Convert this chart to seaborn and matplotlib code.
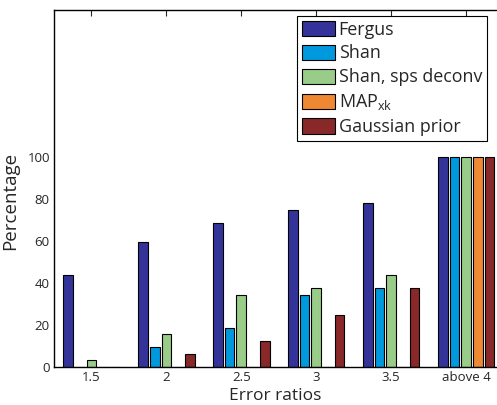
import numpy as np
import pandas as pd
import matplotlib
matplotlib.use("Agg")
import matplotlib.pyplot as plt
import seaborn as sns
from matplotlib.patches import Patch

# data
ratios = ['1.5', '2', '2.5', '3', '3.5', 'above 4']
methods = ['Fergus', 'Shan', 'Shan, sps deconv', 'MAPxk', 'Gaussian prior']
fergus = [43.75, 59.375, 68.75, 75.0, 78.125, 100]
shan = [0, 9.375, 18.75, 34.375, 37.5, 100]
shan_sps = [3.125, 15.625, 34.375, 37.5, 43.75, 100]
map_xk = [0, 0, 0, 0, 0, 100]
gauss = [0, 6.25, 12.5, 25.0, 37.5, 100]
legend_labels = ['Fergus', 'Shan', 'Shan, sps deconv',
                 'MAP$_{\\mathregular{xk}}$', 'Gaussian prior']
colors = ['#333399', '#0099dd', '#99cc88', '#ee8833', '#882828']

sns.set_style("white")
plt.rcParams['font.family'] = ['Open Sans', 'DejaVu Sans']
plt.rcParams['mathtext.default'] = 'regular'

df = pd.DataFrame({
    'ratio': np.tile(ratios, len(methods)),
    'method': np.repeat(methods, len(ratios)),
    'pct': np.concatenate([fergus, shan, shan_sps, map_xk, gauss]),
})

fig = plt.figure(figsize=(4.97, 4.05), dpi=100)
# right spine sits just outside the picture, as in the reference
ax = fig.add_axes([54 / 497, 38 / 405, 449.5 / 497, 357 / 405])

sns.barplot(data=df, x='ratio', y='pct', hue='method', order=ratios,
            hue_order=methods, palette=colors, saturation=1,
            width=0.78, gap=0.17, edgecolor='black', linewidth=0.8,
            legend=False, ax=ax)

ax.set_xlim(-0.5, 5.5)
ax.set_ylim(0, 170)
ax.set_yticks(np.arange(0, 161, 20))
ax.set_yticklabels([str(v) if v <= 100 else '' for v in range(0, 161, 20)])
ax.tick_params(direction='in', length=4, width=0.8, labelsize=9.5,
               top=True, right=True, pad=3)
for s in ax.spines.values():
    s.set_color('black')
    s.set_linewidth(1.0)

ax.set_xlabel('Error ratios', fontsize=12.5, va='baseline')
ax.xaxis.set_label_coords(0.492, -0.093)
ax.set_ylabel('Percentage', fontsize=13.5)
ax.yaxis.set_label_coords(-0.078, 0.465)

handles = [Patch(facecolor=c, edgecolor='black', linewidth=0.8) for c in colors]
leg = fig.legend(handles, legend_labels, loc='upper left',
                 bbox_to_anchor=(297 / 497, 1 - 15.5 / 405),
                 bbox_transform=fig.transFigure, fontsize=12.9,
                 fancybox=False, framealpha=1, edgecolor='black',
                 borderpad=0.28, labelspacing=0.33, handlelength=1.84,
                 handleheight=0.92, handletextpad=0.2, borderaxespad=0)
leg.get_frame().set_linewidth(0.8)

fig.savefig('out.png', dpi=100, facecolor='white')
